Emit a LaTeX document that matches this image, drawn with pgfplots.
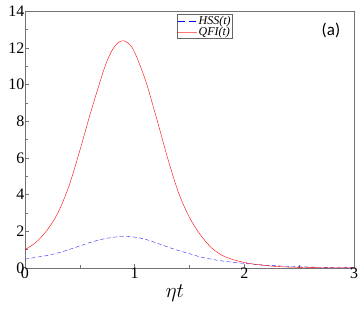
\documentclass[border=0pt]{standalone}
\usepackage{fontspec}
\setmainfont{Liberation Serif}
\newfontfamily\carlito{Carlito}
\usepackage{pgfplots}
\pgfplotsset{compat=1.18}
\begin{document}
\begin{tikzpicture}
\begin{axis}[name=ax,
  scale only axis, width=329pt, height=257pt,
  xmin=0, xmax=3, ymin=0, ymax=14,
  xtick={0,1,2,3}, ytick={0,2,4,6,8,10,12,14},
  minor x tick num=1, minor y tick num=1,
  tick align=inside, tick pos=left,
  major tick length=4pt, minor tick length=3pt,
  axis line style={draw=black!55},
  every tick/.style={black!55},
  tick label style={font=\fontsize{16}{18}\selectfont},
  /pgf/number format/assume math mode=true,
  yticklabel style={xshift=3pt},
  xticklabel style={yshift=4pt},
  xlabel={$\eta t$},
  xlabel style={font=\fontsize{21}{24}\selectfont, at={(axis description cs:0.456,0)}, anchor=north, yshift=-13pt},
  legend style={at={(axis description cs:0.463,0.987)}, anchor=north west,
    font=\fontsize{12}{13}\selectfont\itshape, draw=black!60, inner sep=0.5pt, row sep=-0.5pt,
    legend cell align=left, nodes={inner xsep=1pt, inner ysep=1pt}},
  clip=true,
]
\addplot[blue!85!white, thin, dash pattern=on 4pt off 2.5pt, smooth,
  legend image code/.code={\draw[draw=blue, line width=0.6pt, dash pattern=on 7pt off 4pt] (0pt,0pt) -- (19pt,0pt);}] coordinates {
(0,0.48)(0.1,0.58)(0.2,0.68)(0.3,0.82)(0.4,1.0)(0.5,1.2)(0.6,1.4)(0.7,1.56)(0.8,1.67)(0.9,1.72)
(1.0,1.68)(1.1,1.56)(1.2,1.36)(1.3,1.15)(1.4,0.95)(1.5,0.78)(1.6,0.6)(1.7,0.48)(1.8,0.38)(1.9,0.31)
(2.0,0.25)(2.1,0.2)(2.2,0.15)(2.3,0.12)(2.4,0.09)(2.5,0.07)(2.6,0.05)(2.7,0.04)(2.8,0.03)(2.9,0.025)(3.0,0.02)};
\addlegendentry{HSS(t)}
\addplot[red, thin, smooth,
  legend image code/.code={\draw[draw=red!55, line width=0.6pt] (0pt,0pt) -- (19pt,0pt);}] coordinates {
(0,1.0)(0.1,1.4)(0.2,2.05)(0.3,3.0)(0.4,4.45)(0.5,6.4)(0.6,8.5)(0.7,10.45)(0.75,11.3)(0.8,11.92)(0.85,12.28)(0.9,12.38)
(0.95,12.2)(1.0,11.75)(1.1,10.2)(1.2,8.15)(1.3,6.0)(1.4,4.1)(1.5,2.75)(1.6,1.8)(1.7,1.1)(1.8,0.68)(1.9,0.45)
(2.0,0.3)(2.1,0.2)(2.2,0.13)(2.3,0.08)(2.4,0.05)(2.5,0.035)(2.6,0.02)(2.8,0.01)(3.0,0.005)};
\addlegendentry{QFI(t)}
\node[font=\carlito\fontsize{17}{20}\selectfont] at (axis description cs:0.93,0.926) {(a)};
\end{axis}
\pgfresetboundingbox
\path[use as bounding box] ([shift={(-25pt,-41pt)}]ax.south west) rectangle ([shift={(7pt,11pt)}]ax.north east);
\end{tikzpicture}
\end{document}
